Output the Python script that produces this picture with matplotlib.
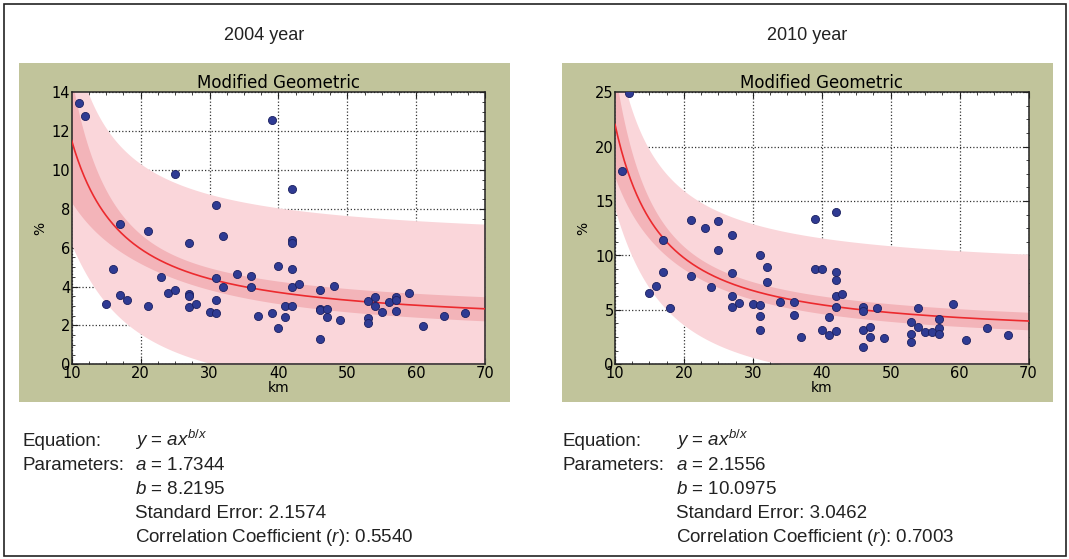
import numpy as np
import matplotlib
matplotlib.use("Agg")
import matplotlib.pyplot as plt
from matplotlib.patches import Rectangle
from matplotlib.ticker import MultipleLocator, AutoMinorLocator

# distance (km), same stations in both years
km = [11, 12, 15, 16, 17, 17, 18, 21, 21, 23, 24, 25, 25, 27, 27, 27, 27, 28, 30,
      31, 31, 31, 31, 32, 32, 34, 36, 36, 37, 39, 39, 40, 40, 41, 41,
      42, 42, 42, 42, 42, 42, 43, 46, 46, 46, 46, 47, 47, 48, 49,
      53, 53, 53, 54, 54, 55, 56, 57, 57, 57, 59, 61, 64, 67]

pct_2004 = [13.46, 12.78, 3.10, 4.92, 7.24, 3.58, 3.33, 6.88, 3.02, 4.49, 3.67, 9.78, 3.84,
            6.23, 3.64, 3.50, 2.93, 3.10, 2.71,
            8.18, 4.44, 3.31, 2.62, 6.62, 3.96, 4.63, 4.55, 3.96, 2.50, 12.56, 2.62,
            5.06, 1.85, 3.00, 2.45,
            9.00, 6.38, 6.23, 4.92, 4.00, 3.00, 4.13, 3.82, 2.85, 2.80, 1.32, 2.85, 2.42,
            4.01, 2.28,
            3.28, 2.37, 2.14, 3.48, 3.00, 2.68, 3.22, 3.48, 3.31, 2.76, 3.67, 1.97, 2.49, 2.66]

pct_2010 = [17.73, 24.94, 6.53, 7.24, 11.38, 8.50, 5.15, 13.28, 8.10, 12.52, 7.09, 13.13, 10.49,
            11.90, 8.40, 6.32, 5.25, 5.61, 5.52,
            10.03, 5.43, 4.45, 3.16, 8.96, 7.58, 5.77, 5.70, 4.54, 2.52, 13.37, 8.80,
            8.80, 3.16, 4.39, 2.70,
            13.99, 8.50, 7.79, 6.26, 5.31, 3.07, 6.47, 5.31, 4.91, 3.16, 1.60, 3.47, 2.52,
            5.15, 2.45,
            3.93, 2.82, 2.06, 5.15, 3.47, 2.98, 2.98, 4.17, 3.37, 2.82, 5.55, 2.24, 3.37, 2.67]

# fitted parameters shown under each chart
years = ["2004 year", "2010 year"]
param_a = [1.7344, 2.1556]
param_b = [8.2195, 10.0975]
std_err = [2.1574, 3.0462]
corr_r = [0.5540, 0.7003]
y_max = [14, 25]
y_step = [2, 5]
t_crit = 1.999  # t(0.975, n-2)

plt.rcParams["mathtext.fontset"] = "custom"
plt.rcParams["mathtext.rm"] = "Liberation Sans"
plt.rcParams["mathtext.it"] = "Liberation Sans:italic"

olive = "#c1c49b"
fig = plt.figure(figsize=(10.69, 5.59), dpi=100)
W, H = 1069, 559

fig.patches.append(Rectangle((3.5 / W, 1 - 556 / H), 1062.5 / W, 552 / H,
                             transform=fig.transFigure, fill=False,
                             edgecolor="#222222", lw=1.2, zorder=-2))

panel_left = [19, 562]
axes_left = [71.7, 615]
text_left = [22, 563]
x = np.array(km, dtype=float)

for i, ydata in enumerate([pct_2004, pct_2010]):
    a, b, se = param_a[i], param_b[i], std_err[i]

    fig.patches.append(Rectangle((panel_left[i] / W, 1 - 401.7 / H), 490.5 / W, 339 / H,
                                 transform=fig.transFigure, facecolor=olive,
                                 edgecolor="none", zorder=-1))
    fig.text((panel_left[i] + 245) / W, 1 - 35 / H, years[i], ha="center", va="center",
             fontsize=13, family="Liberation Sans", color="#222222")

    ax = fig.add_axes([axes_left[i] / W, 1 - 364.3 / H, 413.5 / W, 272 / H])

    # confidence / prediction bands from the fitted model
    J = np.column_stack([x ** (b / x), a * x ** (b / x) * np.log(x) / x])
    cov = np.linalg.inv(J.T @ J)
    xs = np.linspace(10, 70, 400)
    g = np.column_stack([xs ** (b / xs), a * xs ** (b / xs) * np.log(xs) / xs])
    lev = np.einsum("ij,jk,ik->i", g, cov, g)
    fit = a * xs ** (b / xs)
    conf = t_crit * se * np.sqrt(lev)
    pred = t_crit * se * np.sqrt(1 + lev)

    ax.fill_between(xs, fit - pred, fit + pred, color="#fad6da", lw=0, zorder=1)
    ax.fill_between(xs, fit - conf, fit + conf, color="#f3b4b9", lw=0, zorder=2)
    ax.plot(xs, fit, color="#ec2a2e", lw=1.2, zorder=3)
    ax.scatter(km, ydata, s=34, color="#2f3b93", edgecolor="#1b2060", lw=0.6, zorder=4)

    ax.set_xlim(10, 70)
    ax.set_ylim(0, y_max[i])
    ax.xaxis.set_major_locator(MultipleLocator(10))
    ax.yaxis.set_major_locator(MultipleLocator(y_step[i]))
    ax.xaxis.set_minor_locator(AutoMinorLocator(4))
    ax.yaxis.set_minor_locator(AutoMinorLocator(4))
    ax.tick_params(which="both", direction="in", top=True, right=True,
                   labelsize=10.5, pad=1, color="#222222")
    ax.tick_params(which="major", length=4)
    ax.tick_params(which="minor", length=2.5)
    ax.grid(True, which="major", color="#333333", linestyle=":", lw=0.9, zorder=0)
    ax.set_axisbelow(True)
    for sp in ax.spines.values():
        sp.set_linewidth(1.1)
        sp.set_color("#222222")
    ax.set_title("Modified Geometric", fontsize=12, pad=2)
    ax.set_xlabel("km", fontsize=10, labelpad=0)
    ax.set_ylabel("%", fontsize=10, labelpad=3)

    tx = text_left[i] / W
    vx = (text_left[i] + 113) / W
    base = [446 + 24 * k for k in range(5)]
    kw = dict(fontsize=13.5, family="Liberation Sans", va="baseline", color="#222222")
    fig.text(tx, 1 - base[0] / H, "Equation:", **kw)
    fig.text(vx, 1 - base[0] / H, r"$y$ = $ax^{b/x}$", **kw)
    fig.text(tx, 1 - base[1] / H, "Parameters:", **kw)
    fig.text(vx, 1 - base[1] / H, r"$a$ = %.4f" % a, **kw)
    fig.text(vx, 1 - base[2] / H, r"$b$ = %.4f" % b, **kw)
    fig.text(vx, 1 - base[3] / H, "Standard Error: %.4f" % se, **kw)
    fig.text(vx, 1 - base[4] / H, r"Correlation Coefficient ($r$): %.4f" % corr_r[i], **kw)

fig.savefig("out.png", dpi=100)
